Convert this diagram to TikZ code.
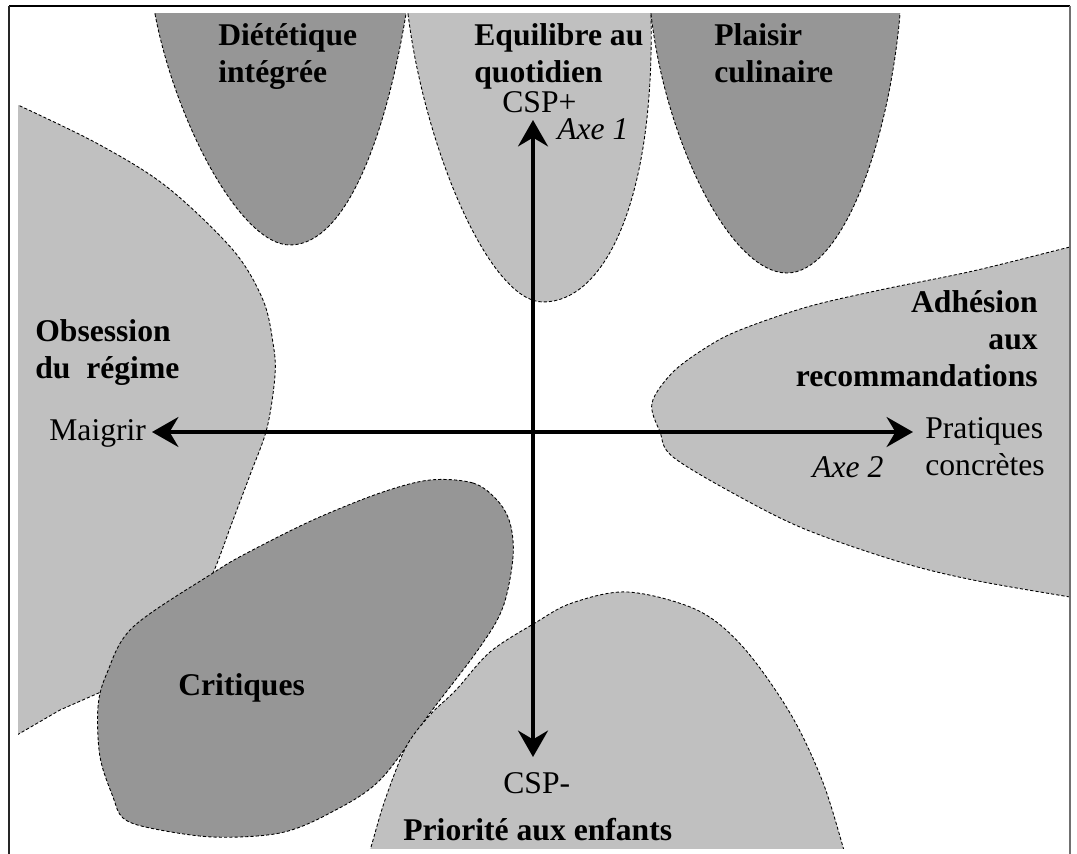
\documentclass[tikz,border=0pt]{standalone}
\usepackage{fontspec}
\setmainfont{Liberation Serif}
\usetikzlibrary{arrows.meta}
\definecolor{darkzone}{RGB}{150,150,150}
\definecolor{lightzone}{RGB}{192,192,192}
\definecolor{framegray}{RGB}{112,112,112}
\begin{document}
\begin{tikzpicture}[x=0.02cm,y=-0.02cm,
  zone/.style={draw=black, line width=0.5pt, dash pattern=on 1.8pt off 1.2pt},
  darkz/.style={zone, fill=darkzone},
  lightz/.style={zone, fill=lightzone},
  title/.style={font=\fontsize{18}{21}\selectfont\bfseries, inner sep=0pt},
  plain/.style={font=\fontsize{18}{21}\selectfont, inner sep=0pt},
  axe/.style={font=\fontsize{18}{21}\selectfont\itshape, inner sep=0pt},
  axisline/.style={line width=2.4pt, {Stealth[length=15pt,width=17pt,inset=5pt]}-{Stealth[length=15pt,width=17pt,inset=5pt]}},
  ]
\useasboundingbox (0,0) rectangle (1077,854);

\begin{scope}
\clip (18,14) rectangle (1070,848);
% Obsession du regime
\filldraw[lightz] plot[smooth,tension=0.55] coordinates {(0,98) (18,105) (100,145) (167,187) (233,250) (263,300) (273,343) (275,375) (267,428) (250,475) (233,520) (213,573) (200,590)}
  -- (110,688) -- (60,710) -- (17,735) -- (0,742) -- cycle;
% Critiques
\filldraw[darkz] plot[smooth cycle,tension=0.55] coordinates {(430,480) (473,483) (497,500) (510,523) (513,557) (503,607) (480,647) (430,713) (380,780) (330,813) (280,833) (213,837) (150,828) (123,818) (113,797) (100,757) (98,707) (107,673) (133,627) (213,573) (247,553) (313,520) (380,493)};
% Dietetique integree
\filldraw[darkz] (155,14) .. controls (175,120) and (240,245) .. (290,245)
  .. controls (345,245) and (385,140) .. (406,14) -- (406,0) -- (155,0) -- cycle;
% Equilibre au quotidien
\filldraw[lightz] (408,14) .. controls (425,150) and (490,302) .. (543,302)
  .. controls (605,302) and (655,200) .. (651,14) -- (651,0) -- (408,0) -- cycle;
% Plaisir culinaire
\filldraw[darkz] (651,14) .. controls (665,140) and (730,273) .. (787,273)
  .. controls (840,273) and (888,150) .. (900,14) -- (900,0) -- (651,0) -- cycle;
% Adhesion aux recommandations
\filldraw[lightz] plot[smooth,tension=0.55] coordinates {(1090,243) (1070,247) (973,271) (880,290) (807,307) (740,330) (707,347) (673,372) (652,403) (660,432) (673,457) (740,497) (807,530) (900,562) (973,580) (1070,597) (1090,600)} -- cycle;
% Priorite aux enfants
\filldraw[lightz] plot[smooth,tension=0.55] coordinates {(366,862) (371,847) (385,800) (406,747) (430,715) (456,690) (490,652) (535,623) (572,603) (628,592) (697,610) (743,647) (790,713) (822,780) (843,847) (846,862)} -- cycle;
\end{scope}

% frame
\draw[line width=0.6pt] (9,6) -- (1070,6);
\draw[line width=0.7pt, black!85] (9,6) -- (9,854);
\draw[line width=1.1pt, framegray] (1070,6) -- (1070,854);

% axes
\coordinate (ytop) at (533,120);
\coordinate (ybot) at (533,757);
\coordinate (xleft) at (152,432);
\coordinate (xright) at (913,432);
\draw[axisline] (ybot) -- (ytop);
\draw[axisline] (xleft) -- (xright);

% zone titles
\node[title, align=left, anchor=north west] (diet) at ([yshift=14.7pt]218,45) {\strut Diététique\\intégrée};
\node[title, align=left, anchor=north west] (equi) at ([yshift=14.7pt]474,45) {\strut Equilibre au\\quotidien};
\node[title, align=left, anchor=north west] (plai) at ([yshift=14.7pt]714,45) {\strut Plaisir\\culinaire};
\node[title, align=right, anchor=north east] (adhe) at ([yshift=14.7pt]1038,312) {\strut Adhésion\\aux\\recommandations};
\node[title, align=left, anchor=north west] (obse) at ([yshift=14.7pt]35,341) {\strut Obsession\\du~~régime};
\node[title, anchor=base west] (crit) at (178,695) {Critiques};
\node[title, anchor=base west] (prio) at (403,840) {Priorité aux enfants};

% axis labels
\node[plain, anchor=base west] (cspp) at (502,113) {CSP+};
\node[plain, anchor=base west] (cspm) at (503,793) {CSP-};
\node[plain, anchor=base west] (maig) at (49,440) {Maigrir};
\node[plain, align=left, anchor=north west] (prat) at ([yshift=14.7pt]925,438) {\strut Pratiques\\concrètes};
\node[axe, anchor=base west] (axe1) at (557,140) {Axe 1};
\node[axe, anchor=base west] (axe2) at (812,477) {Axe 2};
\end{tikzpicture}
\end{document}
